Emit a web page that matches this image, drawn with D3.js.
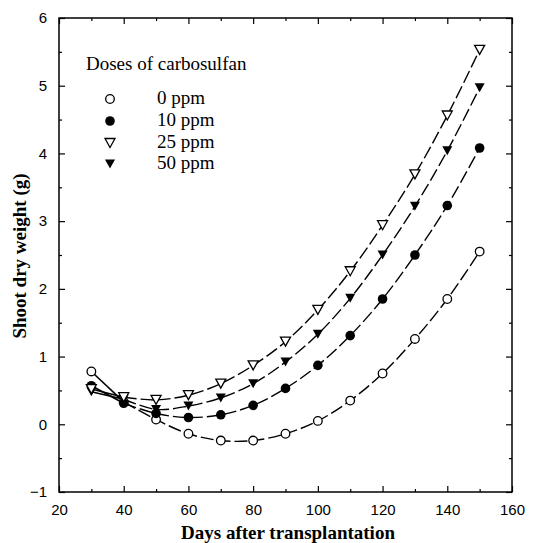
<!DOCTYPE html>
<html><head><meta charset="utf-8">
<script src="https://cdnjs.cloudflare.com/ajax/libs/d3/7.8.5/d3.min.js"></script>
<style>body{margin:0;background:#fff}</style>
</head><body>
<svg id="c" width="549" height="543"></svg>
<script>
const days = [30,40,50,60,70,80,90,100,110,120,130,140,150];
const ppm0  = [0.78,0.33,0.07,-0.14,-0.24,-0.24,-0.14,0.05,0.35,0.75,1.26,1.85,2.55];
const ppm10 = [0.57,0.31,0.16,0.10,0.14,0.28,0.53,0.87,1.31,1.85,2.50,3.23,4.08];
const ppm25 = [0.52,0.40,0.36,0.43,0.60,0.87,1.22,1.69,2.26,2.94,3.69,4.56,5.53];
const ppm50 = [0.48,0.37,0.22,0.27,0.39,0.60,0.92,1.33,1.86,2.50,3.22,4.04,4.97];
const seriesNames = ["0 ppm","10 ppm","25 ppm","50 ppm"];
const seriesSymbols = ["openCircle","filledCircle","openTriangle","filledTriangle"];
const xTicks = [20,40,60,80,100,120,140,160];
const yTicks = [-1,0,1,2,3,4,5,6];

const series = [ppm0,ppm10,ppm25,ppm50].map((v,i)=>({name:seriesNames[i],sym:seriesSymbols[i],vals:v}));

const SERIF = "'Liberation Serif', 'Times New Roman', serif";
const SANS = "'Liberation Sans', Arial, sans-serif";
const svg = d3.select("#c");
const L=59,R=512,T=18,B=492;
const x = d3.scaleLinear().domain([20,160]).range([L,R]);
const y = d3.scaleLinear().domain([-1,6]).range([B,T]);

svg.append("rect").attr("x",L).attr("y",T).attr("width",R-L).attr("height",B-T)
  .attr("fill","none").attr("stroke","#000").attr("stroke-width",1.5);

const minorX = d3.range(30,160,20);
const minorY = d3.range(-0.5,6,1);
function ticks(g){ g.selectAll("line").attr("stroke","#000").attr("stroke-width",1.2); g.select(".domain").remove(); }
svg.append("g").attr("transform",`translate(0,${B})`)
  .call(d3.axisBottom(x).tickValues(xTicks).tickSizeInner(-6).tickSizeOuter(0).tickPadding(12).tickFormat(d3.format("d")))
  .call(ticks).selectAll("text").attr("font-family",SANS).attr("font-size",15).attr("fill","#000");
svg.append("g").attr("transform",`translate(0,${B})`)
  .call(d3.axisBottom(x).tickValues(minorX).tickSize(-3).tickFormat("")).call(ticks);
svg.append("g").attr("transform",`translate(0,${T})`)
  .call(d3.axisTop(x).tickValues(xTicks).tickSize(-6).tickFormat("")).call(ticks);
svg.append("g").attr("transform",`translate(0,${T})`)
  .call(d3.axisTop(x).tickValues(minorX).tickSize(-3).tickFormat("")).call(ticks);
svg.append("g").attr("transform",`translate(${L},0)`)
  .call(d3.axisLeft(y).tickValues(yTicks).tickSizeInner(-6).tickSizeOuter(0).tickPadding(12).tickFormat(d3.format("d")))
  .call(ticks).selectAll("text").attr("font-family",SANS).attr("font-size",15).attr("fill","#000");
svg.append("g").attr("transform",`translate(${L},0)`)
  .call(d3.axisLeft(y).tickValues(minorY).tickSize(-3).tickFormat("")).call(ticks);
svg.append("g").attr("transform",`translate(${R},0)`)
  .call(d3.axisRight(y).tickValues(yTicks).tickSize(-6).tickFormat("")).call(ticks);
svg.append("g").attr("transform",`translate(${R},0)`)
  .call(d3.axisRight(y).tickValues(minorY).tickSize(-3).tickFormat("")).call(ticks);

svg.append("text").attr("x",288).attr("y",539).attr("text-anchor","middle")
  .attr("font-family",SERIF).attr("font-weight","bold").attr("font-size",19)
  .text("Days after transplantation");
svg.append("text").attr("transform","translate(26,256) rotate(-90)").attr("text-anchor","middle")
  .attr("font-family",SERIF).attr("font-weight","bold").attr("font-size",19)
  .text("Shoot dry weight (g)");

const lineSeg = d3.line().x(d=>x(d[0])).y(d=>y(d[1]));
series.forEach(s=>{
  svg.append("path").attr("d",lineSeg([[days[0],s.vals[0]],[days[1],s.vals[1]]]))
    .attr("fill","none").attr("stroke","#000").attr("stroke-width",1.6);
  const sub = s.vals.slice(1);
  const l2 = d3.line().x((d,i)=>x(days[i+1])).y(d=>y(d)).curve(d3.curveCatmullRom.alpha(0.5));
  svg.append("path").attr("d",l2(sub)).attr("fill","none").attr("stroke","#000")
    .attr("stroke-width",1.4).attr("stroke-dasharray","13,4");
});

function drawSym(g,sym,cx,cy){
  if(sym==="openCircle") g.append("circle").attr("cx",cx).attr("cy",cy).attr("r",4.3).attr("fill","#fff").attr("stroke","#000").attr("stroke-width",1.3);
  else if(sym==="filledCircle") g.append("circle").attr("cx",cx).attr("cy",cy).attr("r",4.8).attr("fill","#000");
  else {
    const p = `M${cx-5},${cy-4.5}L${cx+5},${cy-4.5}L${cx},${cy+4.5}Z`;
    if(sym==="openTriangle") g.append("path").attr("d",p).attr("fill","#fff").attr("stroke","#000").attr("stroke-width",1.3);
    else g.append("path").attr("d",p).attr("fill","#000");
  }
}
const mg = svg.append("g");
[series[0],series[1],series[3],series[2]].forEach(s=>{
  s.vals.forEach((v,i)=>drawSym(mg,s.sym,x(days[i]),y(v)));
});

svg.append("text").attr("x",86).attr("y",70).attr("font-family",SERIF)
  .attr("font-size",19).text("Doses of carbosulfan");
const ly = [99,121,143,164];
series.forEach((s,i)=>{
  drawSym(svg,s.sym,110,ly[i]);
  svg.append("text").attr("x",157).attr("y",ly[i]+5).attr("font-family",SERIF)
    .attr("font-size",19).text(s.name);
});
</script>
</body></html>
